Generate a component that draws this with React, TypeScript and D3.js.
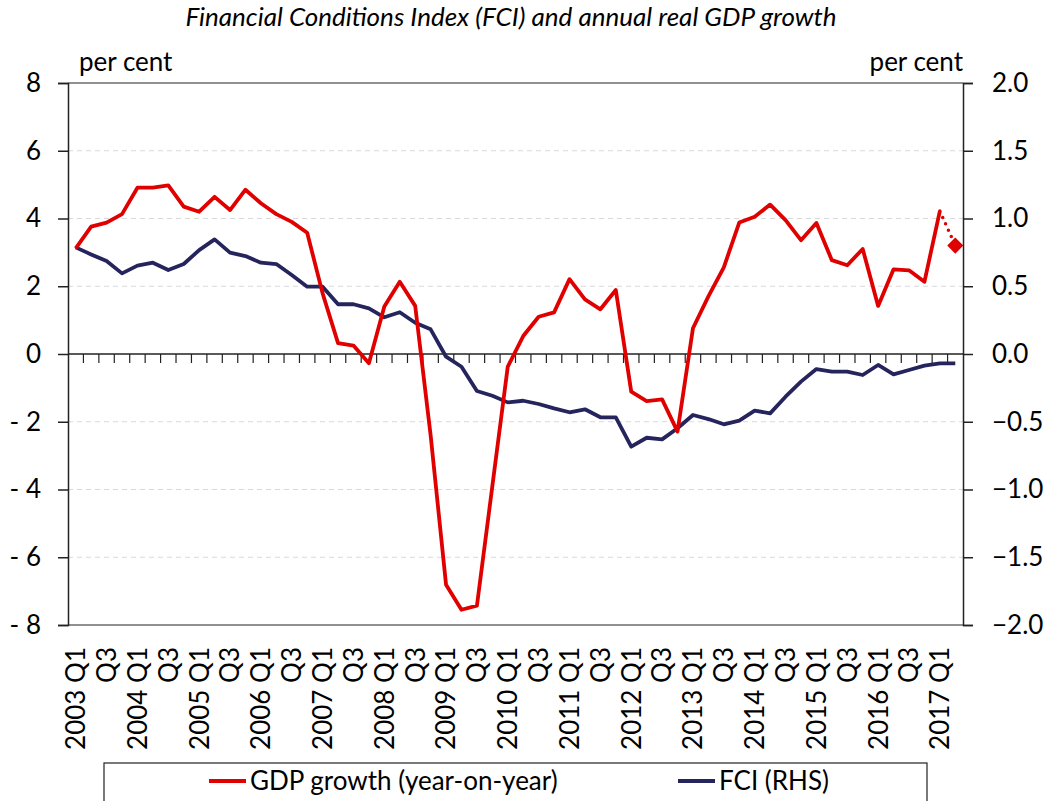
import React, { useEffect, useRef } from 'react';
import * as d3 from 'd3';

// quarters 2003 Q1 .. 2017 Q2
const years = [2003, 2004, 2005, 2006, 2007, 2008, 2009, 2010, 2011, 2012, 2013, 2014, 2015, 2016, 2017];
const quarterNames = ['Q1', 'Q2', 'Q3', 'Q4'];
const lastYearQuarters = 2;

// GDP growth, year-on-year, per cent (left axis); null = no outturn
const gdpGrowth = [
  3.12, 3.76, 3.88, 4.13,
  4.91, 4.91, 4.98, 4.35,
  4.2, 4.64, 4.25, 4.85,
  4.45, 4.13, 3.9, 3.58,
  1.79, 0.32, 0.25, -0.27,
  1.4, 2.13, 1.42, -2.4,
  -6.81, -7.55, -7.43, -3.9,
  -0.37, 0.53, 1.1, 1.23,
  2.21, 1.61, 1.32, 1.89,
  -1.11, -1.39, -1.34, -2.29,
  0.76, 1.7, 2.56, 3.88,
  4.05, 4.41, 3.95, 3.36,
  3.87, 2.77, 2.62, 3.1,
  1.42, 2.5, 2.47, 2.13,
  4.22, null,
];

// nowcast for the last quarter (dotted line + diamond)
const gdpNowcastQuarter = '2017 Q2';
const gdpNowcast = 3.2;

// Financial Conditions Index (right axis)
const fci = [
  0.787, 0.735, 0.686, 0.595,
  0.652, 0.674, 0.62, 0.664,
  0.767, 0.846, 0.748, 0.723,
  0.674, 0.664, 0.583, 0.497,
  0.497, 0.367, 0.367, 0.337,
  0.271, 0.308, 0.231, 0.182,
  -0.02, -0.094, -0.273, -0.308,
  -0.357, -0.345, -0.369, -0.401,
  -0.43, -0.408, -0.467, -0.467,
  -0.684, -0.618, -0.63, -0.548,
  -0.45, -0.48, -0.519, -0.492,
  -0.418, -0.438, -0.315, -0.204,
  -0.111, -0.13, -0.13, -0.155,
  -0.081, -0.15, -0.118, -0.086,
  -0.069, -0.069,
];

const leftTicks = [-8, -6, -4, -2, 0, 2, 4, 6, 8];
const rightTicks = [-2, -1.5, -1, -0.5, 0, 0.5, 1, 1.5, 2];

const title = 'Financial Conditions Index (FCI) and annual real GDP growth';
const gdpLabel = 'GDP growth (year-on-year)';
const fciLabel = 'FCI (RHS)';

const RED = '#e00000';
const NAVY = '#25245c';
const FONT = 'Lato, "Open Sans", sans-serif';
const FS = '26px';

function FCIChart() {
  const ref = useRef<SVGSVGElement>(null);

  useEffect(() => {
    drawChart();
  }, []);

  function drawChart() {
    const quarters: string[] = [];
    years.forEach((y, i) => {
      const n = i == years.length - 1 ? lastYearQuarters : 4;
      for (let q = 0; q < n; q++) quarters.push(y + ' ' + quarterNames[q]);
    });

    const width = 1043;
    const height = 801;
    const margin = { top: 83, right: 80, bottom: 176, left: 68 };
    const plotR = width - margin.right;
    const plotB = height - margin.bottom;

    const svg = d3.select(ref.current).html('');
    svg.attr('width', width).attr('height', height);

    const x = d3.scaleBand().domain(quarters).range([margin.left, plotR]).padding(0);
    const cx = (q: string) => (x(q) as number) + x.bandwidth() / 2;
    const yL = d3.scaleLinear().domain([-8, 8]).range([plotB, margin.top]);
    const yR = d3.scaleLinear().domain([-2, 2]).range([plotB, margin.top]);

    // title
    svg.append('text')
      .attr('x', 511).attr('y', 26)
      .attr('text-anchor', 'middle')
      .style('font-family', FONT).style('font-style', 'italic').style('font-size', '26px')
      .text(title);

    // gridlines
    svg.append('g').selectAll('line')
      .data(leftTicks.filter(d => d != 0 && Math.abs(d) != 8))
      .join('line')
      .attr('x1', margin.left).attr('x2', plotR)
      .attr('y1', d => yL(d)).attr('y2', d => yL(d))
      .attr('stroke', '#d9d9d9').attr('stroke-width', 1).attr('stroke-dasharray', '5,4');

    // frame top/bottom
    const axisCol = '#222';
    [margin.top, plotB].forEach(yy => {
      svg.append('line').attr('x1', margin.left).attr('x2', plotR).attr('y1', yy).attr('y2', yy)
        .attr('stroke', axisCol).attr('stroke-width', 1.2);
    });

    // left axis
    const yAxisL = d3.axisLeft(yL).tickValues(leftTicks).tickSize(10).tickPadding(17)
      .tickFormat(d => (+d < 0 ? '- ' + Math.abs(+d) : String(d)));
    const gl = svg.append('g').attr('transform', 'translate(' + margin.left + ',0)').call(yAxisL);

    // right axis
    const yAxisR = d3.axisRight(yR).tickValues(rightTicks).tickSize(10).tickPadding(19)
      .tickFormat(d3.format('.1f'));
    const gr = svg.append('g').attr('transform', 'translate(' + plotR + ',0)').call(yAxisR);

    [gl, gr].forEach(g => {
      g.select('.domain').attr('stroke', axisCol).attr('stroke-width', 1.5);
      g.selectAll('.tick line').attr('stroke', axisCol).attr('stroke-width', 1.5);
      g.selectAll('.tick text')
        .attr('fill', '#000')
        .style('font-family', FONT).style('font-size', FS);
    });

    // zero line with category ticks
    svg.append('line')
      .attr('x1', margin.left).attr('x2', plotR).attr('y1', yL(0)).attr('y2', yL(0))
      .attr('stroke', axisCol).attr('stroke-width', 1.5);
    svg.append('g').selectAll('line')
      .data(quarters.slice(1))
      .join('line')
      .attr('x1', d => x(d) as number).attr('x2', d => x(d) as number)
      .attr('y1', yL(0)).attr('y2', yL(0) + 9)
      .attr('stroke', axisCol).attr('stroke-width', 1.2);

    // x labels
    svg.append('g').selectAll('text')
      .data(quarters.filter((d, i) => i % 2 == 0))
      .join('text')
      .attr('transform', d => 'translate(' + cx(d) + ',' + (plotB + 22) + ') rotate(-90)')
      .attr('text-anchor', 'end')
      .attr('dy', '0.36em')
      .style('font-family', FONT).style('font-size', FS)
      .text(d => (d.endsWith('Q1') ? d : d.split(' ')[1]));

    // per cent labels
    svg.append('text').attr('x', 79).attr('y', 71)
      .style('font-family', FONT).style('font-size', FS).text('per cent');
    svg.append('text').attr('x', plotR).attr('y', 71).attr('text-anchor', 'end')
      .style('font-family', FONT).style('font-size', FS).text('per cent');

    // FCI line
    const fciLine = d3.line<number>()
      .x((d, i) => cx(quarters[i]))
      .y(d => yR(d));
    svg.append('path').datum(fci)
      .attr('d', fciLine)
      .attr('fill', 'none').attr('stroke', NAVY).attr('stroke-width', 3.8)
      .attr('stroke-linejoin', 'round');

    // GDP line
    const gdpLine = d3.line<number | null>()
      .defined(d => d != null)
      .x((d, i) => cx(quarters[i]))
      .y(d => yL(d as number));
    svg.append('path').datum(gdpGrowth)
      .attr('d', gdpLine)
      .attr('fill', 'none').attr('stroke', RED).attr('stroke-width', 3.8)
      .attr('stroke-linejoin', 'round');

    // nowcast: dotted link + diamond
    let lastIdx = 0;
    gdpGrowth.forEach((d, i) => { if (d != null) lastIdx = i; });
    const lx = cx(quarters[lastIdx]);
    const ly = yL(gdpGrowth[lastIdx] as number);
    const nx = cx(gdpNowcastQuarter);
    const ny = yL(gdpNowcast);
    svg.append('line')
      .attr('x1', lx).attr('y1', ly).attr('x2', nx).attr('y2', ny)
      .attr('stroke', RED).attr('stroke-width', 3.5)
      .attr('stroke-dasharray', '0,7').attr('stroke-linecap', 'round');
    svg.append('path')
      .attr('d', d3.symbol(d3.symbolSquare, 130)())
      .attr('transform', 'translate(' + nx + ',' + ny + ') rotate(45)')
      .attr('fill', RED);

    // legend
    const legY = 781;
    svg.append('rect')
      .attr('x', 104).attr('y', 763).attr('width', 823).attr('height', 60)
      .attr('fill', 'none').attr('stroke', axisCol).attr('stroke-width', 1.2);
    const legend = [
      { label: gdpLabel, color: RED, x: 209 },
      { label: fciLabel, color: NAVY, x: 678 },
    ];
    legend.forEach(l => {
      svg.append('line')
        .attr('x1', l.x).attr('x2', l.x + 37).attr('y1', legY).attr('y2', legY)
        .attr('stroke', l.color).attr('stroke-width', 3.8);
      svg.append('text')
        .attr('x', l.x + 41).attr('y', legY).attr('dy', '0.35em')
        .style('font-family', FONT).style('font-size', FS)
        .text(l.label);
    });
  }

  return (
    <div style={{ position: 'absolute', left: 0, top: 0 }}>
      <svg ref={ref}></svg>
    </div>
  );
}

export default function App() {
  return <FCIChart />;
}
